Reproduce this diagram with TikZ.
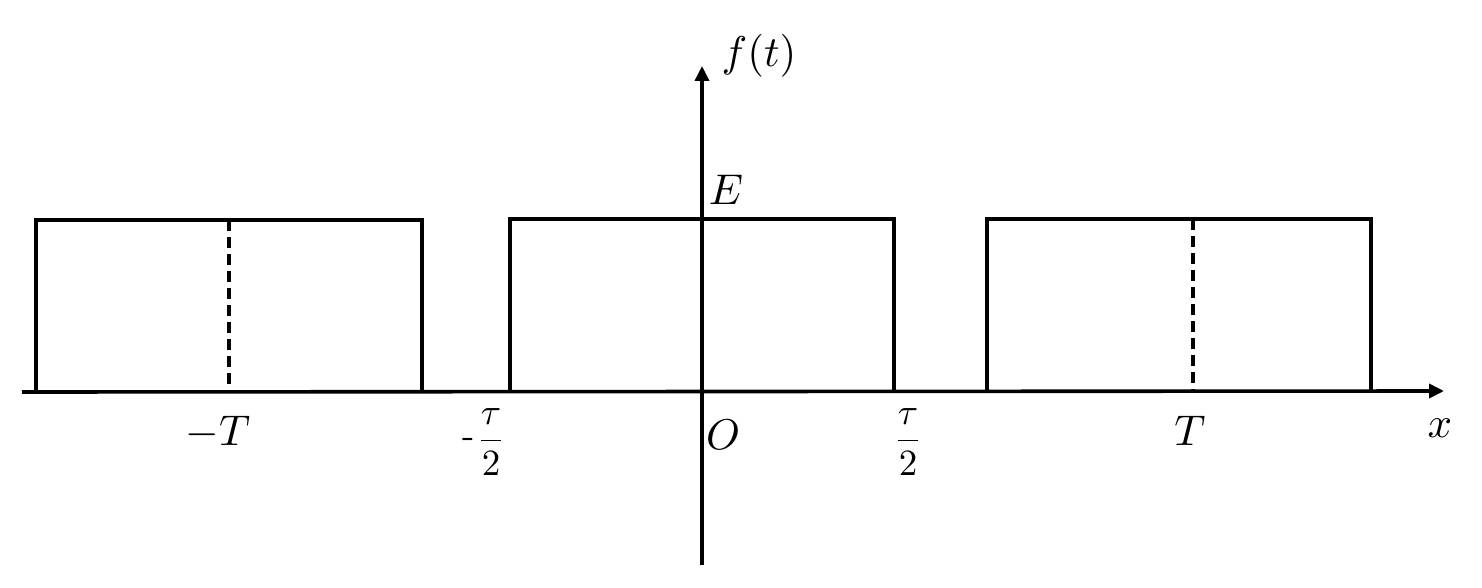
\documentclass[tikz,border=0pt]{standalone}
\usetikzlibrary{arrows.meta}
\begin{document}
\begin{tikzpicture}[x=1pt,y=-1pt,
  axis/.style={line width=3.6pt,-{Triangle[length=15pt,width=14pt]}},
  pulse/.style={line width=3.6pt,line join=miter},
  mid/.style={line width=3.6pt,dash pattern=on 11pt off 6pt},
  lbl/.style={inner sep=0pt,scale=4.3},
  fr/.style={inner sep=0pt,scale=3.7}]
\useasboundingbox (0,0) rectangle (1482,588);
% axes
\coordinate (xs) at (22,392);
\coordinate (xe) at (1444,391);
\coordinate (ys) at (702,565);
\coordinate (ye) at (702,66);
\draw[axis] (xs) -- (xe);
\draw[axis] (ys) -- (ye);
% pulses
\coordinate (a1) at (36,392);  \coordinate (a2) at (36,220);
\coordinate (a3) at (422,220); \coordinate (a4) at (422,392);
\coordinate (b1) at (510,392); \coordinate (b2) at (510,219);
\coordinate (b3) at (894,219); \coordinate (b4) at (894,392);
\coordinate (c1) at (987,391); \coordinate (c2) at (987,219);
\coordinate (c3) at (1371,219); \coordinate (c4) at (1371,391);
\draw[pulse] (a1) -- (a2) -- (a3) -- (a4);
\draw[pulse] (b1) -- (b2) -- (b3) -- (b4);
\draw[pulse] (c1) -- (c2) -- (c3) -- (c4);
\coordinate (d1t) at (229,220); \coordinate (d1b) at (229,392);
\coordinate (d2t) at (1193,219); \coordinate (d2b) at (1193,391);
\draw[mid] (d1t) -- (d1b);
\draw[mid] (d2t) -- (d2b);
% labels
\node[lbl] (ft) at (759,56) {$f(t)$};
\node[lbl] (E) at (726,190) {$E$};
\node[lbl] (O) at (723,435) {$O$};
\node[lbl] (x) at (1440,428) {$x$};
\node[lbl] (mT) at (218,433) {$-T$};
\node[lbl] (T) at (1190,431) {$T$};
\node[fr] (mtau) at (491,442) {$\displaystyle\frac{\tau}{2}$};
\node[fr,anchor=east] (minus) at ([yshift=-1pt]mtau.west) {-};
\node[fr] (tau) at (908,442) {$\displaystyle\frac{\tau}{2}$};
\end{tikzpicture}
\end{document}
